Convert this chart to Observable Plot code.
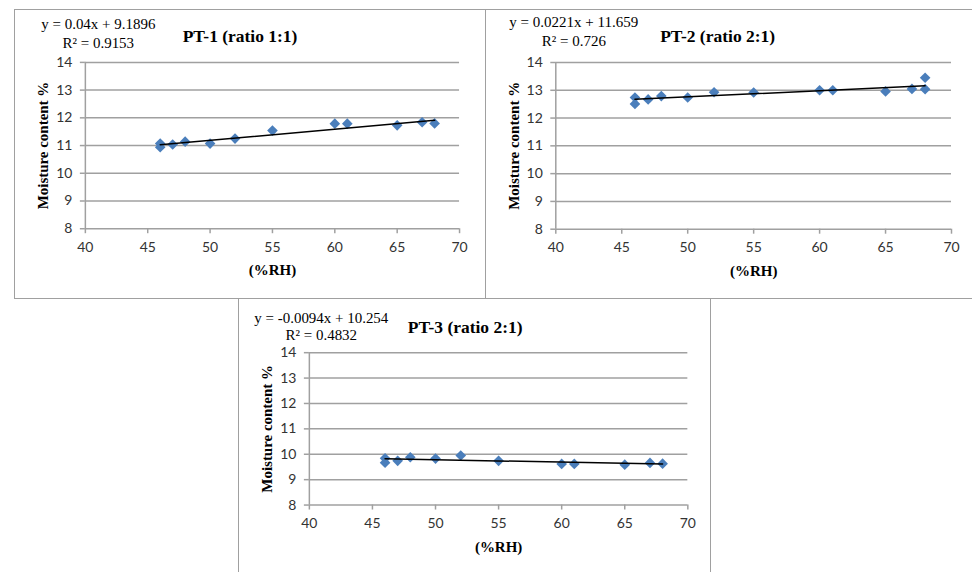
<!DOCTYPE html>
<html><head><meta charset="utf-8">
<script src="https://cdn.jsdelivr.net/npm/d3@7"></script>
<script src="https://cdn.jsdelivr.net/npm/@observablehq/plot@0.6"></script>
<style>
html,body{margin:0;padding:0;background:#fff;width:972px;height:572px;overflow:hidden;position:relative}
.panel{position:absolute;box-sizing:border-box;border:1.5px solid #a0a0a0;background:#fff}
.panel svg{position:absolute;left:-1.5px;top:-1.5px;display:block}
</style></head><body>
<div id="p1" class="panel" style="left:14px;top:9px;width:472px;height:290px"></div>
<div id="p2" class="panel" style="left:485px;top:9px;width:520px;height:290px"></div>
<div id="p3" class="panel" style="left:238px;top:298px;width:473px;height:300px"></div>
<script>
// ---- data ----
const xTicks = [40, 45, 50, 55, 60, 65, 70];
const yTicks = [8, 9, 10, 11, 12, 13, 14];

const titles = ["PT-1 (ratio 1:1)", "PT-2 (ratio 2:1)", "PT-3 (ratio 2:1)"];
const equations = ["y = 0.04x + 9.1896", "y = 0.0221x + 11.659", "y = -0.0094x + 10.254"];
const r2Labels = ["R² = 0.9153", "R² = 0.726", "R² = 0.4832"];
const slopes = [0.04, 0.0221, -0.0094];
const intercepts = [9.1896, 11.659, 10.254];

const rh1 = [46, 46, 47, 48, 50, 52, 55, 60, 61, 65, 67, 68];
const mc1 = [11.07, 10.94, 11.04, 11.14, 11.07, 11.25, 11.54, 11.79, 11.79, 11.73, 11.84, 11.80];
const rh2 = [46, 46, 47, 48, 50, 52, 55, 60, 61, 65, 67, 68, 68];
const mc2 = [12.74, 12.51, 12.67, 12.79, 12.74, 12.93, 12.92, 13.00, 13.00, 12.96, 13.05, 13.45, 13.04];
const rh3 = [46, 46, 47, 48, 50, 52, 55, 60, 61, 65, 67, 68];
const mc3 = [9.84, 9.67, 9.74, 9.88, 9.83, 9.95, 9.74, 9.62, 9.62, 9.59, 9.66, 9.63];

const xLabel = "(%RH)";
const yLabel = "Moisture content %";

const series = [[rh1, mc1], [rh2, mc2], [rh3, mc3]];

// ---- layout (style only) ----
const layouts = [
  {el: "p1", width: 471, height: 289, ml: 71, mr: 25, mt: 53, mb: 69.3, titleDx: -32.5, titleDy: -26, eqDx: 13, eqDy: -38, r2Dy: -19},
  {el: "p2", width: 487, height: 289, ml: 70.3, mr: 21, mt: 53, mb: 69.3, titleDx: -36, titleDy: -26, eqDx: 18, eqDy: -40, r2Dy: -21},
  {el: "p3", width: 472, height: 274, ml: 71, mr: 21.7, mt: 54.3, mb: 67, titleDx: -33.5, titleDy: -25, eqDx: 12, eqDy: -35, r2Dy: -17.5}
];

const serif = "'Liberation Serif', 'DejaVu Serif', serif";
const grid = "#a0a0a0";
const blue = "#4a7ebb";

layouts.forEach((L, i) => {
  const [xs, ys] = series[i];
  const pts = xs.map((x, j) => ({x, y: ys[j]}));
  const xmin = d3.min(xs), xmax = d3.max(xs);
  const trend = [xmin, xmax].map(x => ({x, y: slopes[i] * x + intercepts[i]}));
  const chart = Plot.plot({
    width: L.width, height: L.height,
    marginLeft: L.ml, marginRight: L.mr, marginTop: L.mt, marginBottom: L.mb,
    x: {domain: [40, 70]},
    y: {domain: [8, 14]},
    style: {fontFamily: "Lato, sans-serif", fontSize: "14px", color: "#333", background: "transparent", overflow: "visible"},
    marks: [
      Plot.gridY(yTicks, {stroke: grid, strokeOpacity: 1, strokeWidth: 1.5}),
      Plot.ruleX([40], {stroke: grid, strokeWidth: 1.5}),
      Plot.axisY(yTicks, {tickSize: 5, tickPadding: 8, stroke: grid, strokeWidth: 1.5, fill: "#333", label: null}),
      Plot.axisX(xTicks, {tickSize: 5, tickPadding: 8, stroke: grid, strokeWidth: 1.5, fill: "#333", label: null}),
      Plot.dot(pts, {x: "x", y: "y", symbol: "diamond2", r: 4.8, fill: blue, stroke: "none"}),
      Plot.line(trend, {x: "x", y: "y", stroke: "#000", strokeWidth: 1.5}),
      Plot.text([yLabel], {frameAnchor: "left", dx: -42, rotate: -90, textAnchor: "middle", lineAnchor: "middle", fontFamily: serif, fontWeight: "bold", fontSize: 15, fill: "#000"}),
      Plot.text([xLabel], {frameAnchor: "bottom", dy: 42, textAnchor: "middle", lineAnchor: "middle", fontFamily: serif, fontWeight: "bold", fontSize: 15, fill: "#000"}),
      Plot.text([titles[i]], {frameAnchor: "top", dx: L.titleDx, dy: L.titleDy, textAnchor: "middle", lineAnchor: "middle", fontFamily: serif, fontWeight: "bold", fontSize: 17.5, fill: "#000"}),
      Plot.text([equations[i]], {frameAnchor: "top-left", dx: L.eqDx, dy: L.eqDy, textAnchor: "middle", lineAnchor: "middle", fontFamily: serif, fontSize: 15, fill: "#000"}),
      Plot.text([r2Labels[i]], {frameAnchor: "top-left", dx: L.eqDx, dy: L.r2Dy, textAnchor: "middle", lineAnchor: "middle", fontFamily: serif, fontSize: 15, fill: "#000"})
    ]
  });
  document.getElementById(L.el).appendChild(chart);
});
</script>
</body></html>
